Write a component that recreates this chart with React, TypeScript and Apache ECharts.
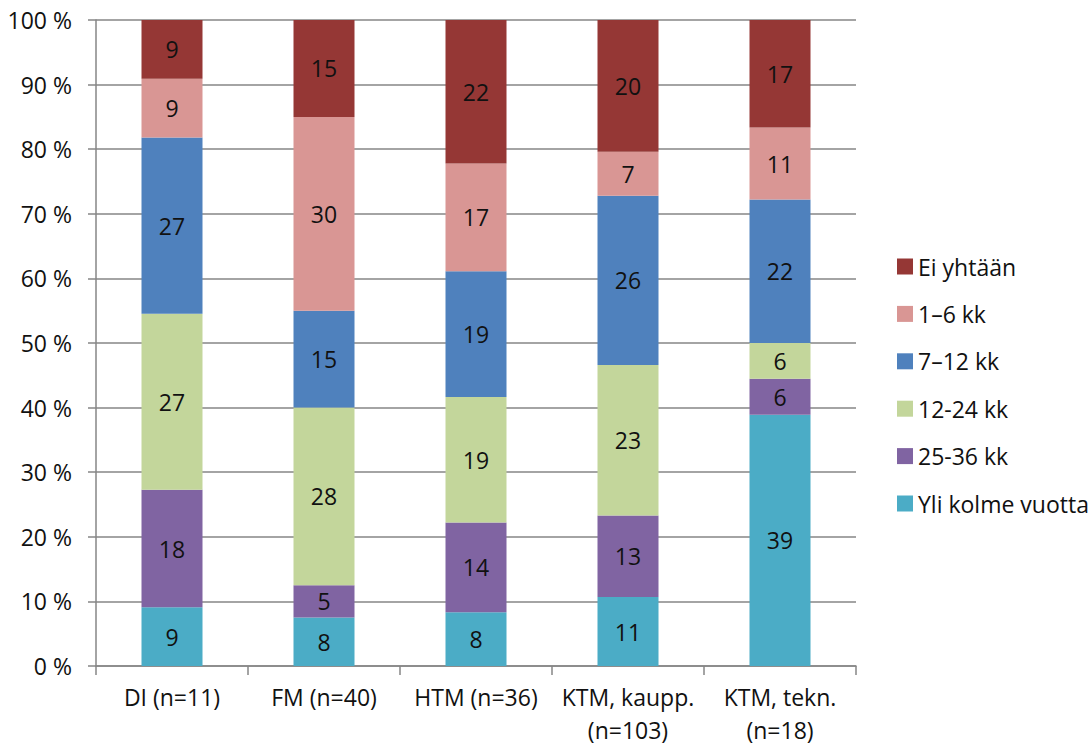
import React, { useEffect, useRef } from "react";
import * as echarts from "echarts";

const categories = ["DI (n=11)", "FM (n=40)", "HTM (n=36)", "KTM, kaupp.\n(n=103)", "KTM, tekn.\n(n=18)"];
const yliKolme = [9.09, 7.5, 8.33, 10.68, 38.89];
const kk25_36 = [18.18, 5.0, 13.89, 12.62, 5.56];
const kk12_24 = [27.27, 27.5, 19.44, 23.3, 5.56];
const kk7_12 = [27.27, 15.0, 19.44, 26.21, 22.22];
const kk1_6 = [9.09, 30.0, 16.67, 6.8, 11.11];
const eiYhtaan = [9.09, 15.0, 22.22, 20.39, 16.67];
const yTicks = [0, 10, 20, 30, 40, 50, 60, 70, 80, 90, 100];

const seriesDefs = [
  { name: "Yli kolme vuotta", data: yliKolme, color: "#4BACC6" },
  { name: "25-36 kk", data: kk25_36, color: "#8064A2" },
  { name: "12-24 kk", data: kk12_24, color: "#C3D69B" },
  { name: "7–12 kk", data: kk7_12, color: "#4F81BD" },
  { name: "1–6 kk", data: kk1_6, color: "#D99694" },
  { name: "Ei yhtään", data: eiYhtaan, color: "#953735" },
];

const FONT = "Open Sans";
const FS = 23;

export default function App() {
  const ref = useRef<HTMLDivElement>(null);
  useEffect(() => {
    if (!ref.current) return;
    const chart = echarts.init(ref.current, null, { renderer: "svg" });
    chart.setOption({
      animation: false,
      textStyle: { fontFamily: FONT },
      grid: { left: 96, right: 236, top: 20, bottom: 78, containLabel: false },
      legend: {
        orient: "vertical",
        left: 897,
        top: 255,
        itemWidth: 16,
        itemHeight: 16,
        itemGap: 24.4,
        padding: 0,
        icon: "rect",
        data: seriesDefs.map((s) => s.name).reverse(),
        textStyle: { fontFamily: FONT, fontSize: FS, color: "#111", lineHeight: 20 },
      },
      xAxis: {
        type: "category",
        data: categories,
        axisLine: { show: true, lineStyle: { color: "#868686", width: 1.5 } },
        axisTick: { show: true, length: 9, alignWithLabel: false, lineStyle: { color: "#868686", width: 1.5 } },
        axisLabel: { interval: 0, fontFamily: FONT, fontSize: FS, color: "#111", margin: 14, lineHeight: 33 },
      },
      yAxis: {
        type: "value",
        min: yTicks[0],
        max: yTicks[yTicks.length - 1],
        interval: 10,
        axisLine: { show: true, lineStyle: { color: "#868686", width: 1.5 } },
        axisTick: { show: true, length: 8, lineStyle: { color: "#868686", width: 1.5 } },
        splitLine: { show: true, lineStyle: { color: "#868686", width: 1.5 } },
        axisLabel: { fontFamily: FONT, fontSize: FS, color: "#111", margin: 24, formatter: (v: number) => `${v} %` },
      },
      series: seriesDefs.map((s) => ({
        name: s.name,
        type: "bar",
        stack: "total",
        barWidth: 61,
        data: s.data,
        itemStyle: { color: s.color },
        label: {
          show: true,
          position: "inside",
          fontFamily: FONT,
          fontSize: FS,
          color: "#111",
          formatter: (p: any) => `${Math.round(p.value)}`,
        },
      })),
    });
    return () => chart.dispose();
  }, []);
  return <div ref={ref} style={{ position: "absolute", left: 0, top: 0, width: 1092, height: 746 }} />;
}
